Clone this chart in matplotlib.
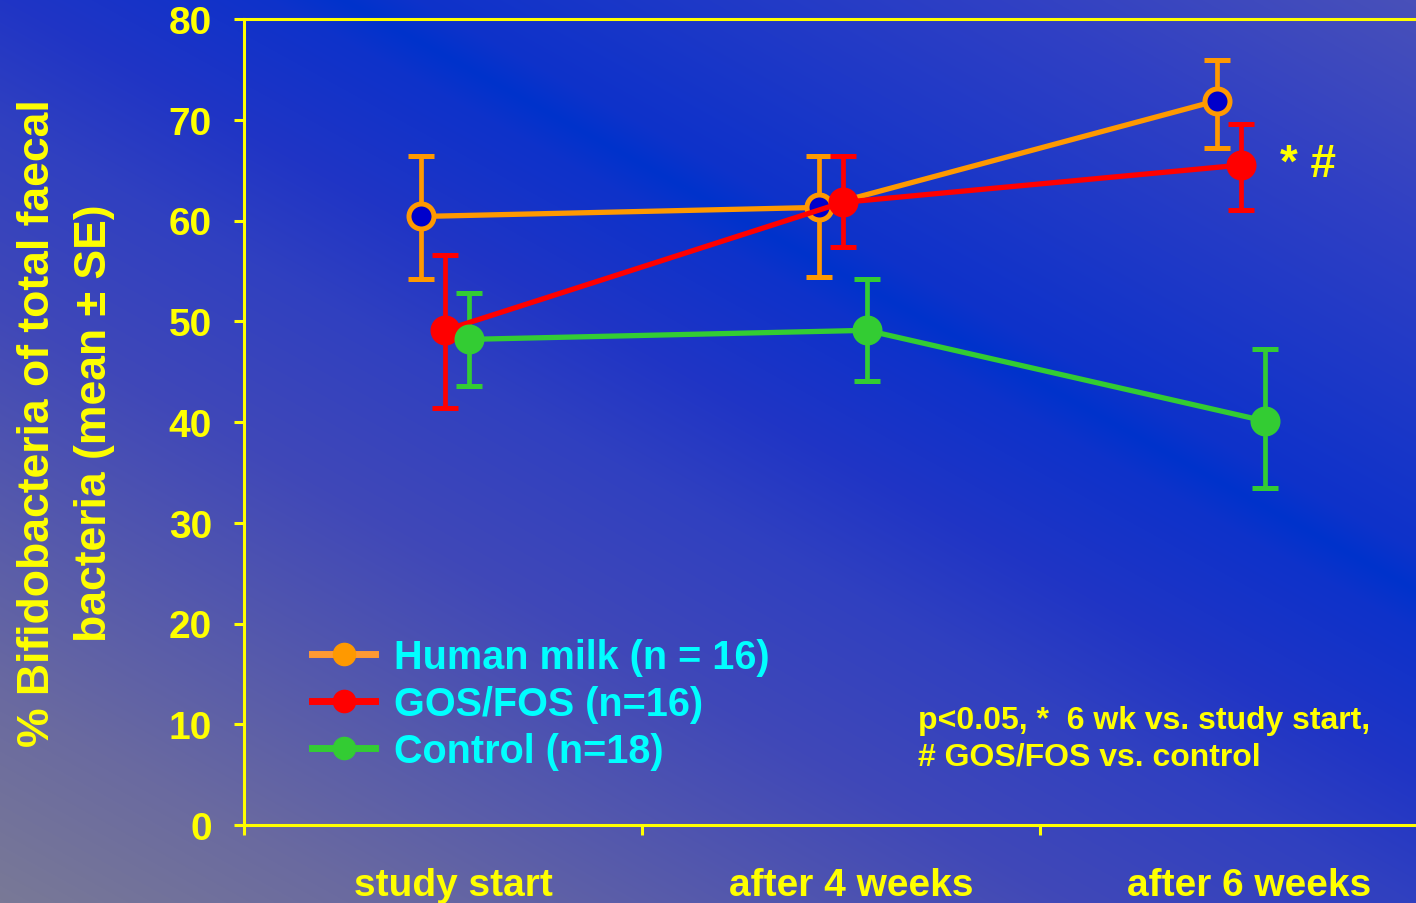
import numpy as np
import matplotlib
matplotlib.use("Agg")
import matplotlib.pyplot as plt
import matplotlib.transforms as mtransforms
from matplotlib.lines import Line2D

# data
categories = ["study start", "after 4 weeks", "after 6 weeks"]
series_names = ["Human milk (n = 16)", "GOS/FOS (n=16)", "Control (n=18)"]

hm_mean = [60.4, 61.3, 71.9]
hm_upper = [66.4, 66.4, 75.9]
hm_lower = [54.2, 54.4, 67.2]

gos_mean = [49.1, 61.8, 65.5]
gos_upper = [56.6, 66.4, 69.6]
gos_lower = [41.4, 57.4, 61.0]

ctrl_mean = [48.2, 49.1, 40.1]
ctrl_upper = [52.8, 54.2, 47.2]
ctrl_lower = [43.6, 44.1, 33.4]

y_ticks = [0, 10, 20, 30, 40, 50, 60, 70, 80]

YELLOW = '#FFFF00'
CYAN = '#00FFFF'
ORANGE = '#FF9900'
RED = '#FF0000'
GREEN = '#33CC33'

plt.rcParams['font.family'] = ['Liberation Sans', 'DejaVu Sans']
plt.rcParams['font.weight'] = 'bold'

W, H = 1416, 904
fig = plt.figure(figsize=(W / 100, H / 100), dpi=100)

# slide background: diagonal gradient with a bright blue band
bg = fig.add_axes([0, 0, 1, 1], zorder=0)
yy, xx = np.mgrid[0:H, 0:W]
s = 0.482 * xx - 0.876 * yy
stop_s = [-800, -612, -274, -109, 0, 130, 165, 200, 482, 700]
stop_r = [122, 106, 64, 48, 32, 14, 0, 14, 48, 75]
stop_g = [122, 106, 72, 64, 53, 50, 51, 50, 64, 82]
stop_b = [150, 160, 184, 192, 197, 202, 204, 202, 196, 184]
img = np.dstack([np.interp(s, stop_s, c) for c in (stop_r, stop_g, stop_b)]) / 255.0
bg.imshow(img, aspect='auto', extent=[0, 1, 0, 1])
bg.set_axis_off()

ax = fig.add_axes([244 / W, 78 / H, 1194 / W, 806 / H], zorder=1)
ax.patch.set_alpha(0)


def draw(x, mean, lower, upper, color, face):
    mean = np.array(mean)
    yerr = [mean - np.array(lower), np.array(upper) - mean]
    ax.errorbar(x, mean, yerr=yerr, color=color, lw=3.8, elinewidth=3.4,
                capsize=9.5, capthick=3.6, marker='o', ms=18, mfc=face,
                mec=color, mew=3.6)


idx = np.arange(len(categories)) + 0.5
draw(idx - 0.055, hm_mean, hm_lower, hm_upper, ORANGE, '#0000CC')
draw(idx + 0.005, gos_mean, gos_lower, gos_upper, RED, RED)
draw(idx + 0.065, ctrl_mean, ctrl_lower, ctrl_upper, GREEN, GREEN)

ax.set_xlim(0, 3)
ax.set_ylim(0, 80)
ax.set_yticks(y_ticks)
ax.set_xticks([0, 1, 2])
ax.set_xticklabels([])
ax.set_xticks(idx, minor=True)
ax.set_xticklabels(categories, minor=True)

for side in ['left', 'bottom', 'top']:
    ax.spines[side].set_color(YELLOW)
    ax.spines[side].set_linewidth(2.2)
ax.spines['right'].set_visible(False)

ax.tick_params(axis='y', direction='out', length=7, width=2.2, colors=YELLOW,
               labelsize=28, pad=16)
ax.tick_params(axis='x', which='major', direction='out', length=7, width=2.2,
               colors=YELLOW)
ax.tick_params(axis='x', which='minor', length=0, labelsize=28, pad=30,
               labelcolor=YELLOW)
offset = mtransforms.ScaledTranslation(10 / 100, 0, fig.dpi_scale_trans)
for lbl in ax.get_xticklabels(minor=True):
    lbl.set_transform(lbl.get_transform() + offset)

fig.text(66 / W, 1 - 423 / H, "% Bifidobacteria of total faecal\nbacteria (mean \u00b1 SE)",
         rotation=90, ha='center', va='center', fontsize=32, color=YELLOW,
         linespacing=1.5, fontweight='bold')

ax.text(2.603, 65.6, "* #", fontsize=33, color=YELLOW, va='center', ha='left')
ax.text(1.693, 8.6, "p<0.05, *  6 wk vs. study start,\n# GOS/FOS vs. control",
        fontsize=23, color=YELLOW, va='center', ha='left', linespacing=1.3)

handles = [
    Line2D([], [], color='#FF9933', lw=5, marker='o', ms=16, mfc=ORANGE, mec=ORANGE),
    Line2D([], [], color=RED, lw=5, marker='o', ms=16, mfc=RED, mec=RED),
    Line2D([], [], color=GREEN, lw=5, marker='o', ms=16, mfc=GREEN, mec=GREEN),
]
leg = fig.legend(handles, series_names, loc='center left',
                 bbox_to_anchor=(312 / W, 1 - 705 / H), frameon=False,
                 fontsize=28.5, labelspacing=0.22, handlelength=1.6,
                 handletextpad=0.48, borderpad=0, borderaxespad=0)
for t in leg.get_texts():
    t.set_color(CYAN)

fig.savefig("out.png", dpi=100)
